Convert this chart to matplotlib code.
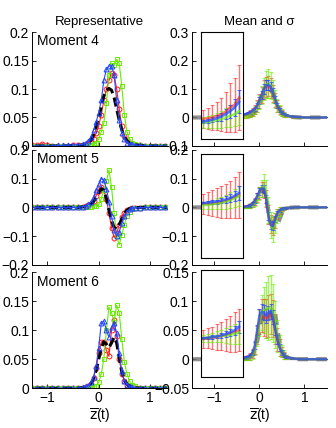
import matplotlib.pyplot as plt
import numpy as np

plt.rcParams["font.family"] = ["Liberation Sans", "DejaVu Sans"]
plt.rcParams["font.size"] = 10

# grid of the representative curves
z = [-1.5, -1.4, -1.3, -1.2, -1.1, -1.0, -0.9, -0.8, -0.7, -0.6, -0.5, -0.4, -0.3,
     -0.25, -0.2, -0.15, -0.1, -0.05, 0.0, 0.05, 0.1, 0.15, 0.2, 0.25, 0.3, 0.35,
     0.4, 0.45, 0.5, 0.55, 0.6, 0.65, 0.7, 0.8, 0.9, 1.0, 1.1, 1.2, 1.3, 1.4, 1.5]

truth_m4 = [0, 0, 0, 0, 0, 0, 0, 0, 0, 0, 0.001, 0.001, 0.002, 0.003, 0.005, 0.01, 0.02,
            0.035, 0.05, 0.07, 0.088, 0.098, 0.101, 0.098, 0.085, 0.065, 0.045, 0.028,
            0.016, 0.009, 0.005, 0.003, 0.002, 0.001, 0, 0, 0, 0, 0, 0, 0]
red_m4 = [0, 0, 0.001, 0.001, 0.004, 0.001, 0, 0, 0, 0, 0.001, 0.001, 0.002, 0.004, 0.006,
          0.009, 0.012, 0.022, 0.035, 0.055, 0.08, 0.1, 0.115, 0.128, 0.125, 0.1, 0.065,
          0.035, 0.018, 0.01, 0.005, 0.003, 0.002, 0.001, 0, 0, 0, 0, 0, 0, 0]
green_m4 = [0, 0, 0, 0, 0, 0, 0, 0, 0, 0, 0, 0, 0.001, 0.001, 0.002, 0.002, 0.003, 0.005,
            0.012, 0.025, 0.04, 0.075, 0.125, 0.145, 0.143, 0.152, 0.145, 0.105, 0.055,
            0.025, 0.012, 0.006, 0.003, 0.001, 0, 0, 0, 0, 0, 0, 0]
blue_m4 = [0, 0, 0, 0, 0, 0, 0, 0.001, 0.001, 0.001, 0.002, 0.002, 0.003, 0.005, 0.009,
           0.015, 0.028, 0.042, 0.058, 0.08, 0.115, 0.135, 0.14, 0.141, 0.125, 0.08, 0.045,
           0.022, 0.012, 0.006, 0.004, 0.003, 0.002, 0.001, 0, 0, 0, 0, 0, 0, 0]

truth_m5 = [0, 0, 0, 0, 0, 0, 0, 0, 0, 0, 0, 0, 0.002, 0.004, 0.007, 0.012, 0.02, 0.035,
            0.05, 0.065, 0.06, 0.03, -0.01, -0.045, -0.07, -0.075, -0.06, -0.04, -0.02,
            -0.01, -0.004, -0.002, -0.001, 0, 0, 0, 0, 0, 0, 0, 0]
red_m5 = [0, 0, 0, 0, 0, 0, 0, 0, 0, 0, 0, 0, 0.002, 0.004, 0.007, 0.012, 0.022, 0.04,
          0.058, 0.072, 0.06, 0.03, -0.02, -0.07, -0.105, -0.09, -0.06, -0.035, -0.018,
          -0.01, -0.005, -0.003, -0.002, -0.001, 0, 0, 0, 0, 0, 0, 0]
green_m5 = [0, 0, 0, 0, 0, 0, 0, 0, 0, 0, 0, 0, 0.001, 0.001, 0.002, 0.003, 0.004, 0.006,
            0.01, 0.03, 0.06, 0.09, 0.13, 0.07, -0.02, -0.1, -0.13, -0.095, -0.06, -0.03,
            -0.015, -0.007, -0.003, -0.001, 0, 0, 0, 0, 0, 0, 0]
blue_m5 = [0, 0, 0, 0, 0, 0, 0, 0, 0, 0, 0, 0, 0.003, 0.005, 0.01, 0.02, 0.035, 0.06,
           0.08, 0.1, 0.095, 0.065, 0.02, -0.03, -0.08, -0.1, -0.085, -0.055, -0.03,
           -0.015, -0.006, -0.003, -0.002, -0.001, 0, 0, 0, 0, 0, 0, 0]

truth_m6 = [0, 0, 0, 0, 0, 0, 0, 0, 0, 0, 0, 0, 0.001, 0.002, 0.004, 0.008, 0.016, 0.03,
            0.05, 0.068, 0.08, 0.076, 0.07, 0.078, 0.088, 0.078, 0.052, 0.028, 0.014,
            0.007, 0.003, 0.002, 0.001, 0, 0, 0, 0, 0, 0, 0, 0]
red_m6 = [0, 0, 0, 0, 0, 0, 0, 0, 0, 0, 0, 0, 0.001, 0.002, 0.004, 0.008, 0.018, 0.035,
          0.06, 0.08, 0.08, 0.065, 0.055, 0.1, 0.117, 0.09, 0.05, 0.025, 0.012, 0.006,
          0.003, 0.002, 0.001, 0, 0, 0, 0, 0, 0, 0, 0]
green_m6 = [0, 0, 0, 0, 0, 0, 0, 0, 0, 0, 0, 0, 0, 0.001, 0.001, 0.002, 0.003, 0.004,
            0.01, 0.025, 0.05, 0.1, 0.14, 0.13, 0.115, 0.143, 0.13, 0.085, 0.045, 0.025,
            0.012, 0.006, 0.003, 0.001, 0, 0, 0, 0, 0, 0, 0]
blue_m6 = [0, 0, 0, 0, 0, 0, 0, 0, 0, 0, 0, 0, 0.002, 0.003, 0.004, 0.01, 0.02, 0.038,
           0.07, 0.112, 0.116, 0.1, 0.088, 0.105, 0.112, 0.095, 0.06, 0.03, 0.013, 0.006,
           0.003, 0.002, 0.001, 0, 0, 0, 0, 0, 0, 0, 0]

# grid of the mean / sigma curves
zm = [-0.35, -0.3, -0.25, -0.2, -0.15, -0.1, -0.05, 0.0, 0.05, 0.1, 0.15, 0.2, 0.25,
      0.3, 0.35, 0.4, 0.45, 0.5, 0.55, 0.6, 0.7, 0.8, 0.9, 1.0, 1.1, 1.2, 1.3, 1.4, 1.5]

red_mean_m4 = [0.005, 0.007, 0.01, 0.014, 0.02, 0.028, 0.04, 0.057, 0.078, 0.098, 0.108,
               0.11, 0.103, 0.085, 0.062, 0.04, 0.026, 0.016, 0.01, 0.006, 0.003, 0.001,
               0, 0, 0, 0, 0, 0, 0]
red_std_m4 = [0.008, 0.009, 0.01, 0.012, 0.014, 0.016, 0.02, 0.024, 0.028, 0.032, 0.035,
              0.036, 0.034, 0.03, 0.025, 0.02, 0.015, 0.011, 0.008, 0.006, 0.003, 0.002,
              0.001, 0, 0, 0, 0, 0, 0]
green_mean_m4 = [0.003, 0.005, 0.008, 0.012, 0.018, 0.026, 0.038, 0.055, 0.078, 0.1,
                 0.115, 0.12, 0.112, 0.09, 0.065, 0.042, 0.027, 0.017, 0.011, 0.007,
                 0.003, 0.001, 0, 0, 0, 0, 0, 0, 0]
green_std_m4 = [0.006, 0.007, 0.008, 0.01, 0.012, 0.015, 0.019, 0.025, 0.032, 0.04, 0.047,
                0.05, 0.047, 0.04, 0.032, 0.024, 0.017, 0.012, 0.008, 0.005, 0.003, 0.002,
                0.001, 0, 0, 0, 0, 0, 0]
blue_mean_m4 = [0.01, 0.012, 0.015, 0.018, 0.024, 0.03, 0.042, 0.06, 0.08, 0.1, 0.113,
                0.115, 0.108, 0.088, 0.064, 0.042, 0.027, 0.017, 0.012, 0.008, 0.004,
                0.002, 0.001, 0, 0, 0, 0, 0, 0]
blue_std_m4 = [0.003, 0.003, 0.004, 0.005, 0.006, 0.008, 0.01, 0.012, 0.014, 0.016, 0.017,
               0.017, 0.016, 0.014, 0.012, 0.01, 0.008, 0.006, 0.004, 0.003, 0.002, 0.001,
               0, 0, 0, 0, 0, 0, 0]

red_mean_m5 = [0.001, 0.002, 0.003, 0.005, 0.01, 0.019, 0.035, 0.05, 0.062, 0.06, 0.03,
               -0.025, -0.058, -0.065, -0.045, -0.024, -0.012, -0.006, -0.003, -0.002,
               -0.001, 0, 0, 0, 0, 0, 0, 0, 0]
red_std_m5 = [0.004, 0.005, 0.006, 0.007, 0.009, 0.012, 0.016, 0.02, 0.025, 0.028, 0.03,
              0.032, 0.032, 0.03, 0.025, 0.018, 0.012, 0.008, 0.005, 0.003, 0.002, 0.001,
              0, 0, 0, 0, 0, 0, 0]
green_mean_m5 = [0.001, 0.001, 0.002, 0.004, 0.008, 0.016, 0.03, 0.048, 0.065, 0.075,
                 0.05, -0.01, -0.06, -0.075, -0.055, -0.03, -0.015, -0.007, -0.004,
                 -0.002, -0.001, 0, 0, 0, 0, 0, 0, 0, 0]
green_std_m5 = [0.003, 0.003, 0.004, 0.006, 0.008, 0.011, 0.016, 0.022, 0.03, 0.04, 0.045,
                0.045, 0.045, 0.045, 0.035, 0.025, 0.016, 0.01, 0.006, 0.004, 0.002,
                0.001, 0, 0, 0, 0, 0, 0, 0]
blue_mean_m5 = [0.002, 0.003, 0.004, 0.006, 0.012, 0.022, 0.04, 0.055, 0.065, 0.065, 0.03,
                -0.03, -0.06, -0.065, -0.04, -0.02, -0.01, -0.005, -0.003, -0.002,
                -0.001, 0, 0, 0, 0, 0, 0, 0, 0]
blue_std_m5 = [0.002, 0.002, 0.003, 0.004, 0.005, 0.007, 0.009, 0.011, 0.013, 0.014,
               0.014, 0.014, 0.014, 0.013, 0.011, 0.008, 0.006, 0.004, 0.003, 0.002,
               0.001, 0, 0, 0, 0, 0, 0, 0, 0]

red_mean_m6 = [0.001, 0.002, 0.003, 0.005, 0.01, 0.02, 0.042, 0.065, 0.075, 0.072, 0.07,
               0.074, 0.078, 0.07, 0.052, 0.034, 0.02, 0.012, 0.007, 0.004, 0.002, 0.001,
               0, 0, 0, 0, 0, 0, 0]
red_std_m6 = [0.003, 0.004, 0.005, 0.006, 0.008, 0.011, 0.016, 0.022, 0.028, 0.032, 0.034,
              0.036, 0.035, 0.032, 0.026, 0.02, 0.014, 0.009, 0.006, 0.004, 0.002, 0.001,
              0, 0, 0, 0, 0, 0, 0]
green_mean_m6 = [0.001, 0.001, 0.002, 0.004, 0.008, 0.018, 0.038, 0.062, 0.08, 0.085,
                 0.085, 0.088, 0.09, 0.08, 0.06, 0.04, 0.024, 0.014, 0.008, 0.004, 0.002,
                 0.001, 0, 0, 0, 0, 0, 0, 0]
green_std_m6 = [0.002, 0.003, 0.004, 0.005, 0.007, 0.01, 0.015, 0.022, 0.03, 0.04, 0.048,
                0.055, 0.055, 0.05, 0.04, 0.028, 0.018, 0.011, 0.007, 0.004, 0.002, 0.001,
                0, 0, 0, 0, 0, 0, 0]
blue_mean_m6 = [0.002, 0.003, 0.004, 0.006, 0.012, 0.024, 0.05, 0.075, 0.082, 0.08, 0.075,
                0.08, 0.083, 0.072, 0.052, 0.034, 0.02, 0.012, 0.007, 0.004, 0.002, 0.001,
                0, 0, 0, 0, 0, 0, 0]
blue_std_m6 = [0.001, 0.002, 0.002, 0.003, 0.004, 0.006, 0.009, 0.012, 0.013, 0.013,
               0.012, 0.012, 0.013, 0.012, 0.01, 0.008, 0.006, 0.004, 0.003, 0.002, 0.001,
               0, 0, 0, 0, 0, 0, 0, 0]

# magnified tail inside the boxes
zi = [-1.25, -1.15, -1.05, -0.95, -0.85, -0.75, -0.65, -0.55, -0.45]

red_in_m4 = [-0.005, -0.003, 0.0, 0.005, 0.01, 0.02, 0.035, 0.045, 0.07]
red_in_std_m4 = [0.032, 0.038, 0.045, 0.05, 0.058, 0.07, 0.085, 0.095, 0.115]
green_in_m4 = [-0.018, -0.016, -0.013, -0.01, -0.006, 0.0, 0.006, 0.012, 0.022]
green_in_std_m4 = [0.018, 0.02, 0.023, 0.026, 0.03, 0.034, 0.038, 0.042, 0.048]
blue_in_m4 = [-0.015, -0.012, -0.008, -0.003, 0.003, 0.012, 0.022, 0.035, 0.055]
blue_in_std_m4 = [0.006, 0.007, 0.009, 0.011, 0.014, 0.018, 0.023, 0.03, 0.04]

red_in_m5 = [0.012, 0.013, 0.014, 0.016, 0.018, 0.022, 0.028, 0.035, 0.042]
red_in_std_m5 = [0.035, 0.04, 0.045, 0.05, 0.055, 0.06, 0.065, 0.072, 0.08]
green_in_m5 = [0.008, 0.009, 0.011, 0.013, 0.016, 0.02, 0.025, 0.032, 0.04]
green_in_std_m5 = [0.012, 0.014, 0.016, 0.018, 0.021, 0.024, 0.027, 0.031, 0.035]
blue_in_m5 = [0.015, 0.016, 0.018, 0.02, 0.023, 0.027, 0.032, 0.04, 0.05]
blue_in_std_m5 = [0.004, 0.005, 0.006, 0.007, 0.009, 0.011, 0.014, 0.018, 0.024]

red_in_m6 = [0.035, 0.036, 0.037, 0.038, 0.04, 0.042, 0.044, 0.047, 0.05]
red_in_std_m6 = [0.015, 0.017, 0.019, 0.022, 0.025, 0.028, 0.031, 0.034, 0.036]
green_in_m6 = [0.036, 0.037, 0.038, 0.039, 0.04, 0.041, 0.042, 0.044, 0.046]
green_in_std_m6 = [0.006, 0.007, 0.008, 0.009, 0.011, 0.013, 0.015, 0.017, 0.02]
blue_in_m6 = [0.036, 0.037, 0.038, 0.039, 0.041, 0.043, 0.046, 0.05, 0.056]
blue_in_std_m6 = [0.002, 0.002, 0.003, 0.003, 0.004, 0.005, 0.006, 0.008, 0.01]

moments = ["Moment 4", "Moment 5", "Moment 6"]
left_ylim = [(0, 0.2), (-0.2, 0.2), (0, 0.2)]
left_yticks = [[0, 0.05, 0.1, 0.15, 0.2], [-0.2, -0.1, 0, 0.1, 0.2],
               [0, 0.05, 0.1, 0.15, 0.2]]
right_ylim = [(-0.1, 0.3), (-0.2, 0.2), (-0.05, 0.15)]
right_yticks = [[-0.1, 0, 0.1, 0.2, 0.3], [-0.2, -0.1, 0, 0.1, 0.2],
                [-0.05, 0, 0.05, 0.1, 0.15]]
# box of the magnified tail: x0, y0, width, height
boxes = [(-1.3, -0.075, 0.93, 0.375), (-1.3, -0.176, 0.93, 0.36),
         (-1.3, -0.031, 0.93, 0.184)]

RED = "#ff1a1a"
GREEN = "#66ee00"
BLUE = "#2447ff"


def style_axis(ax, ylim, yticks, xlim, show_x):
    ax.set_xlim(*xlim)
    ax.set_ylim(*ylim)
    ax.set_yticks(yticks)
    ax.set_yticklabels([f"{t:g}".replace("-", "\u2212") for t in yticks])
    ax.set_xticks([-1, 0, 1])
    ax.tick_params(direction="in", length=3, width=0.6, pad=2, labelsize=10)
    ax.spines["top"].set_visible(False)
    ax.spines["right"].set_visible(False)
    for s in ("left", "bottom"):
        ax.spines[s].set_linewidth(0.7)
    if show_x:
        ax.set_xlabel(r"$\overline{\mathrm{z}}$(t)", labelpad=1, fontsize=10)
    else:
        ax.set_xticklabels([])


def draw_mean(ax, x, series, cap=1.5):
    for mean, std, c, a in series:
        ax.errorbar(x, mean, yerr=std, color=c, alpha=a, lw=1.8, elinewidth=1,
                    capsize=cap, capthick=0.8)


fig = plt.figure(figsize=(3.36, 4.28), dpi=100)
lefts = [0.095, 0.571]
bottoms = [0.659, 0.381, 0.093]
heights = [0.266, 0.269, 0.271]

rep = [(truth_m4, red_m4, green_m4, blue_m4),
       (truth_m5, red_m5, green_m5, blue_m5),
       (truth_m6, red_m6, green_m6, blue_m6)]
means = [
    [(red_mean_m4, red_std_m4), (green_mean_m4, green_std_m4), (blue_mean_m4, blue_std_m4)],
    [(red_mean_m5, red_std_m5), (green_mean_m5, green_std_m5), (blue_mean_m5, blue_std_m5)],
    [(red_mean_m6, red_std_m6), (green_mean_m6, green_std_m6), (blue_mean_m6, blue_std_m6)],
]
insets = [
    [(red_in_m4, red_in_std_m4), (green_in_m4, green_in_std_m4), (blue_in_m4, blue_in_std_m4)],
    [(red_in_m5, red_in_std_m5), (green_in_m5, green_in_std_m5), (blue_in_m5, blue_in_std_m5)],
    [(red_in_m6, red_in_std_m6), (green_in_m6, green_in_std_m6), (blue_in_m6, blue_in_std_m6)],
]

for i in range(3):
    truth, red, green, blue = rep[i]
    ax = fig.add_axes([lefts[0], bottoms[i], 0.402, heights[i]])
    ax.plot(z, red, "-o", color=RED, ms=3.5, mfc="none", mew=0.7, lw=0.8)
    ax.plot(z, green, "-s", color=GREEN, ms=3.5, mfc="none", mew=0.7, lw=0.8)
    ax.plot(z, truth, "--", color="k", lw=2.2, dashes=(3, 1.5))
    ax.plot(z, blue, "-^", color=BLUE, ms=3.5, mfc="none", mew=0.7, lw=0.8)
    style_axis(ax, left_ylim[i], left_yticks[i], (-1.3, 1.33), i == 2)
    ax.text(0.04, 0.98, moments[i], transform=ax.transAxes, ha="left", va="top",
            fontsize=10)
    if i == 0:
        ax.set_title("Representative", fontsize=9.5, pad=5)

    ax2 = fig.add_axes([lefts[1], bottoms[i], 0.402, heights[i]])
    ax2.plot(z, truth, "--", color="0.45", lw=3, dashes=(2.5, 2), alpha=0.8)
    (rm, rs), (gm, gs), (bm, bs) = means[i]
    draw_mean(ax2, zm, [(rm, rs, RED, 0.55), (gm, gs, GREEN, 0.6), (bm, bs, BLUE, 0.7)])
    style_axis(ax2, right_ylim[i], right_yticks[i], (-1.5, 1.5), i == 2)
    if i == 0:
        ax2.set_title("Mean and \u03c3", fontsize=9.5, pad=5)

    x0, y0, w, h = boxes[i]
    ins = ax2.inset_axes([x0, y0, w, h], transform=ax2.transData)
    ins.set_xlim(x0, x0 + w)
    ins.set_ylim(y0, y0 + h)
    ins.set_xticks([])
    ins.set_yticks([])
    for s in ins.spines.values():
        s.set_linewidth(0.8)
    (rm, rs), (gm, gs), (bm, bs) = insets[i]
    draw_mean(ins, zi, [(rm, rs, RED, 0.6), (gm, gs, GREEN, 0.65), (bm, bs, BLUE, 0.75)])

fig.savefig("out.png", dpi=100)
